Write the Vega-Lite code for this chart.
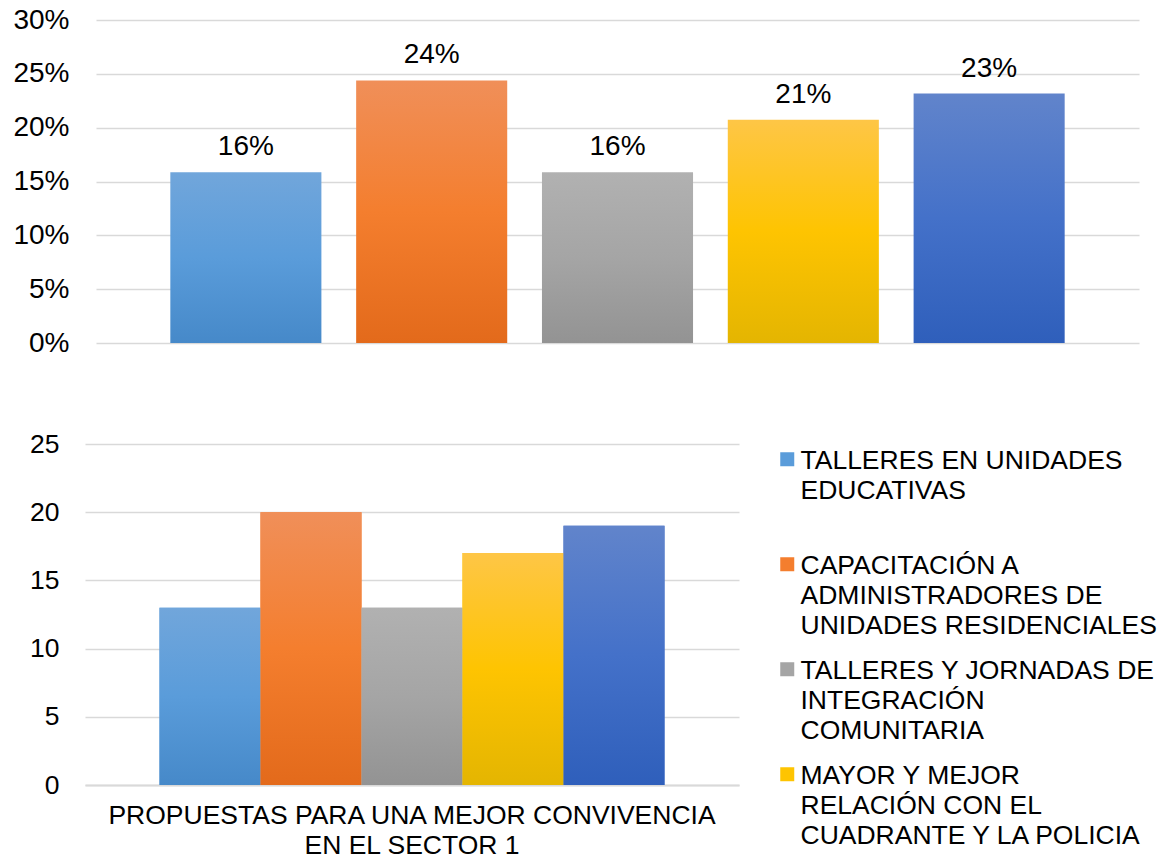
{
  "$schema": "https://vega.github.io/schema/vega-lite/v6.json",
  "background": "white",
  "padding": {"left": 12, "top": 6, "right": 0, "bottom": 0},
  "spacing": 74,
  "config": {
    "font": "Liberation Sans",
    "view": {"stroke": null},
    "axis": {"labelColor": "#000000", "labelFont": "Liberation Sans", "gridColor": "#d9d9d9", "gridWidth": 1.5, "domain": false, "ticks": false, "title": null}
  },
  "datasets": {
    "propuestas": [
      {"id": 1, "propuesta": "TALLERES EN UNIDADES\nEDUCATIVAS", "grupo": "PROPUESTAS PARA UNA MEJOR CONVIVENCIA\nEN EL SECTOR 1", "cantidad": 13, "porcentaje": 0.1585},
      {"id": 2, "propuesta": "CAPACITACIÓN A\nADMINISTRADORES DE\nUNIDADES RESIDENCIALES", "grupo": "PROPUESTAS PARA UNA MEJOR CONVIVENCIA\nEN EL SECTOR 1", "cantidad": 20, "porcentaje": 0.2439},
      {"id": 3, "propuesta": "TALLERES Y JORNADAS DE\nINTEGRACIÓN\nCOMUNITARIA", "grupo": "PROPUESTAS PARA UNA MEJOR CONVIVENCIA\nEN EL SECTOR 1", "cantidad": 13, "porcentaje": 0.1585},
      {"id": 4, "propuesta": "MAYOR Y MEJOR\nRELACIÓN CON EL\nCUADRANTE Y LA POLICIA", "grupo": "PROPUESTAS PARA UNA MEJOR CONVIVENCIA\nEN EL SECTOR 1", "cantidad": 17, "porcentaje": 0.2073},
      {"id": 5, "propuesta": "OTRAS PROPUESTAS", "grupo": "PROPUESTAS PARA UNA MEJOR CONVIVENCIA\nEN EL SECTOR 1", "cantidad": 19, "porcentaje": 0.2317}
    ]
  },
  "resolve": {"scale": {"color": "independent"}},
  "vconcat": [
    {
      "width": 1054,
      "height": 323,
      "data": {"name": "propuestas"},
      "encoding": {
        "x": {"field": "propuesta", "type": "nominal", "sort": null, "scale": {"range": [11, 1054], "paddingInner": 0.187, "paddingOuter": 0.4}, "axis": null},
        "y": {"field": "porcentaje", "type": "quantitative", "scale": {"domain": [0, 0.3]}, "axis": {"values": [0, 0.05, 0.1, 0.15, 0.2, 0.25, 0.3], "format": ".0%", "labelFontSize": 28, "labelPadding": 16, "grid": true}}
      },
      "layer": [
        {
          "mark": {"type": "bar"},
          "encoding": {
            "fill": {
              "condition": [
                {"test": "datum.id === 1", "value": {"gradient": "linear", "x1": 0, "y1": 0, "x2": 0, "y2": 1, "stops": [{"offset": 0, "color": "#71A6DB"}, {"offset": 0.5, "color": "#5A9CDA"}, {"offset": 1, "color": "#4689C9"}]}},
                {"test": "datum.id === 2", "value": {"gradient": "linear", "x1": 0, "y1": 0, "x2": 0, "y2": 1, "stops": [{"offset": 0, "color": "#F08F59"}, {"offset": 0.5, "color": "#F47E2E"}, {"offset": 1, "color": "#E36A1B"}]}},
                {"test": "datum.id === 3", "value": {"gradient": "linear", "x1": 0, "y1": 0, "x2": 0, "y2": 1, "stops": [{"offset": 0, "color": "#B1B1B1"}, {"offset": 0.5, "color": "#A5A5A5"}, {"offset": 1, "color": "#939393"}]}},
                {"test": "datum.id === 4", "value": {"gradient": "linear", "x1": 0, "y1": 0, "x2": 0, "y2": 1, "stops": [{"offset": 0, "color": "#FEC646"}, {"offset": 0.5, "color": "#FEC401"}, {"offset": 1, "color": "#E4B501"}]}}
              ],
              "value": {"gradient": "linear", "x1": 0, "y1": 0, "x2": 0, "y2": 1, "stops": [{"offset": 0, "color": "#6184CB"}, {"offset": 0.5, "color": "#4471C9"}, {"offset": 1, "color": "#2F5FBB"}]}
            }
          }
        },
        {
          "mark": {"type": "text", "baseline": "alphabetic", "dy": -17, "fontSize": 28, "color": "#000000"},
          "encoding": {"text": {"field": "porcentaje", "type": "quantitative", "format": ".0%"}}
        }
      ]
    },
    {
      "width": 654,
      "height": 341,
      "data": {"name": "propuestas"},
      "encoding": {
        "x": {"field": "grupo", "type": "nominal", "scale": {"paddingInner": 0, "paddingOuter": 0.1475},
          "axis": {"labelAngle": 0, "labelExpr": "split(datum.label, '\\n')", "labelFontSize": 26.5, "labelLineHeight": 30, "labelLimit": 0, "labelPadding": 17, "domain": true, "domainColor": "#d9d9d9", "domainWidth": 2, "ticks": false, "grid": false}},
        "xOffset": {"field": "propuesta", "type": "nominal", "sort": null, "scale": {"paddingInner": 0, "paddingOuter": 0}},
        "y": {"field": "cantidad", "type": "quantitative", "scale": {"domain": [0, 25]}, "axis": {"values": [0, 5, 10, 15, 20, 25], "labelFontSize": 26.5, "labelPadding": 26, "grid": true}}
      },
      "layer": [
        {
          "mark": {"type": "bar"},
          "encoding": {
            "color": {"field": "propuesta", "type": "nominal", "sort": null,
              "scale": {"range": ["#5A9CDA", "#F47E2E", "#A5A5A5", "#FEC401", "#4471C9"]},
              "legend": {
                "orient": "none", "legendX": 689, "legendY": 2, "title": null, "padding": 0,
                "values": ["TALLERES EN UNIDADES\nEDUCATIVAS", "CAPACITACIÓN A\nADMINISTRADORES DE\nUNIDADES RESIDENCIALES", "TALLERES Y JORNADAS DE\nINTEGRACIÓN\nCOMUNITARIA", "MAYOR Y MEJOR\nRELACIÓN CON EL\nCUADRANTE Y LA POLICIA"],
                "labelExpr": "split(datum.label, '\\n')",
                "labelFontSize": 26.5, "labelColor": "#000000", "labelLimit": 0, "labelBaseline": "top", "labelOffset": 0,
                "symbolType": "square", "symbolSize": 196, "symbolStrokeWidth": 0,
                "rowPadding": 16, "gridAlign": "all",
                "encode": {"labels": {"update": {"lineHeight": {"value": 30}, "dy": {"value": -11}}}}
              }
            }
          }
        },
        {
          "mark": {"type": "bar"},
          "encoding": {
            "fill": {
              "condition": [
                {"test": "datum.id === 1", "value": {"gradient": "linear", "x1": 0, "y1": 0, "x2": 0, "y2": 1, "stops": [{"offset": 0, "color": "#71A6DB"}, {"offset": 0.5, "color": "#5A9CDA"}, {"offset": 1, "color": "#4689C9"}]}},
                {"test": "datum.id === 2", "value": {"gradient": "linear", "x1": 0, "y1": 0, "x2": 0, "y2": 1, "stops": [{"offset": 0, "color": "#F08F59"}, {"offset": 0.5, "color": "#F47E2E"}, {"offset": 1, "color": "#E36A1B"}]}},
                {"test": "datum.id === 3", "value": {"gradient": "linear", "x1": 0, "y1": 0, "x2": 0, "y2": 1, "stops": [{"offset": 0, "color": "#B1B1B1"}, {"offset": 0.5, "color": "#A5A5A5"}, {"offset": 1, "color": "#939393"}]}},
                {"test": "datum.id === 4", "value": {"gradient": "linear", "x1": 0, "y1": 0, "x2": 0, "y2": 1, "stops": [{"offset": 0, "color": "#FEC646"}, {"offset": 0.5, "color": "#FEC401"}, {"offset": 1, "color": "#E4B501"}]}}
              ],
              "value": {"gradient": "linear", "x1": 0, "y1": 0, "x2": 0, "y2": 1, "stops": [{"offset": 0, "color": "#6184CB"}, {"offset": 0.5, "color": "#4471C9"}, {"offset": 1, "color": "#2F5FBB"}]}
            }
          }
        }
      ]
    }
  ]
}
